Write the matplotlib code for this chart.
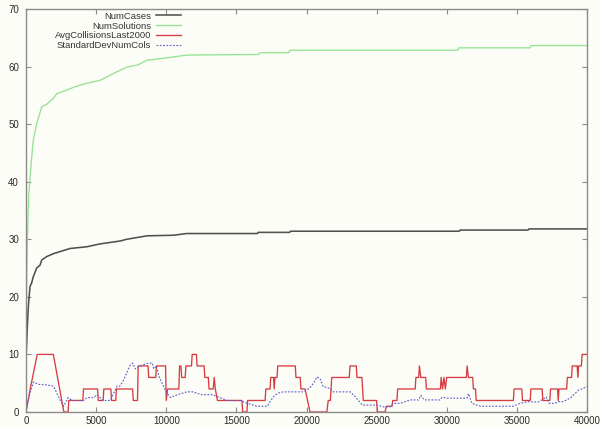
import matplotlib
matplotlib.use("Agg")
import matplotlib.pyplot as plt

# ---- series data (iteration, value) ----
cases_x = [0, 80, 165, 285, 400, 520, 760, 1000, 1120, 1480, 1950, 3140, 4330,
           5280, 6700, 7180, 8610, 10500, 11460, 16500, 16550, 18800, 18850,
           30900, 30950, 35800, 35850, 40000]
cases_y = [9, 14, 18.3, 21.8, 22.4, 23.5, 25.0, 25.5, 26.4, 27.0, 27.5, 28.4, 28.7,
           29.2, 29.7, 30.0, 30.6, 30.7, 31.0, 31.0, 31.2, 31.2, 31.4,
           31.4, 31.6, 31.6, 31.8, 31.8]

solutions_x = [0, 100, 200, 410, 520, 760, 1000, 1120, 1500, 1950, 2200, 2900,
               3500, 4330, 5280, 6230, 7180, 8000, 8610, 10000, 11460, 16600,
               16650, 18750, 18800, 30800, 30850, 35950, 36000, 40000]
solutions_y = [15, 30, 38, 44.3, 47.2, 50.1, 52, 53, 53.5, 54.5, 55.3, 55.9,
               56.5, 57.1, 57.6, 58.8, 59.9, 60.3, 61.1, 61.5, 62.0, 62.1,
               62.4, 62.4, 62.85, 62.85, 63.25, 63.25, 63.65, 63.65]

collisions_x = [0, 300, 800, 1950, 2100, 2250, 2400, 2550, 2700, 3000, 3050, 4050,
                4100, 5100, 5150, 5500, 5550, 6050, 6100, 6400, 6450, 7600, 7650,
                7950, 8000, 8700, 8750, 9250, 9300, 9950, 10000, 10100, 10900,
                10950, 11050, 11100, 11350, 11400, 11800, 11850, 12150, 12200,
                12700, 12750, 13000, 13050, 13350, 13420, 13500, 13650, 15400,
                15450, 15750, 15800, 17050, 17100, 17400, 17450, 17650, 17700,
                17750, 17900, 17950, 19200, 19250, 19550, 19600, 19900, 20250,
                21450, 21550, 21700, 21800, 23050, 23100, 23550, 23600, 23950,
                24050, 25000, 25050, 25600, 25700, 26100, 26150, 26450, 26500,
                27750, 27800, 28000, 28050, 28150, 28500, 28550, 29550, 29600,
                29700, 29800, 29900, 30000, 31400, 31450, 31550, 31850, 31900,
                32050, 32100, 34750, 34800, 35350, 35400, 35950, 36000, 36800,
                36850, 37350, 37400, 37900, 37950, 38000, 38550, 38600, 38900,
                38950, 39300, 39350, 39400, 39600, 39650, 40000]
collisions_y = [0, 4, 10, 10, 8, 6, 4, 2, 0, 0, 2, 2,
                4, 4, 2, 2, 4, 4, 2, 2, 4, 4, 2,
                2, 8, 8, 6, 6, 8, 8, 2, 4, 4,
                8, 8, 6, 6, 8, 8, 10, 10, 8,
                8, 6, 6, 4, 4, 6, 4, 2, 2,
                0, 0, 2, 2, 4, 4, 6, 6, 4,
                6, 6, 8, 8, 6, 6, 4, 4, 0,
                0, 2, 2, 6, 6, 8, 8, 6, 6,
                2, 2, 0, 0, 1, 1, 2, 2, 4,
                4, 6, 6, 8, 6, 6, 4, 4, 6,
                4, 6, 4, 6, 6, 8, 6, 6, 4,
                4, 2, 2, 4, 4, 2, 2, 4, 4,
                2, 2, 4, 4, 2, 4, 4, 6, 6,
                8, 8, 6, 8, 8, 10, 10]

stddev_x = [0, 250, 530, 900, 1500, 1950, 2450, 2680, 3000, 3300, 4090, 4350,
            4800, 5070, 5500, 6000, 6200, 6500, 6700, 6950, 7400, 7600, 7800,
            8100, 8700, 9000, 9100, 9300, 9500, 9800, 10000, 10300, 10800,
            11480, 11920, 12500, 13300, 13800, 14350, 15260, 15800, 16480,
            17200, 17450, 17700, 18000, 18350, 19780, 20200, 20470, 20750,
            20970, 21190, 21690, 21900, 23110, 23500, 23970, 25010, 25470,
            25970, 26180, 26680, 27400, 28000, 28150, 28400, 29500, 29700,
            30030, 31440, 31550, 31800, 32390, 34740, 35200, 35800, 36500,
            37100, 37300, 37700, 38000, 38300, 38800, 39400, 40000]
stddev_y = [0, 3, 5.2, 4.8, 4.7, 4.5, 2, 1, 2.5, 2, 2, 2.5,
            2.5, 3, 2, 2, 3, 4.5, 4.5, 5.5, 8, 8.5, 7.5,
            8, 8.5, 8.5, 7.5, 8, 6, 4.5, 3.5, 2.5, 3,
            3.5, 3.5, 3, 3, 2.5, 2, 2, 1.5, 1,
            1, 2, 2.8, 3.3, 3.5, 3.5, 4.1, 4.9, 6.1,
            5.8, 4.4, 4.1, 3.5, 3.5, 2.6, 1.2, 1.2, 0.9,
            0.9, 1.5, 1.5, 2.1, 2.1, 2.9, 2.1, 2.1, 2.6,
            2.4, 2.4, 3.2, 1.5, 1.0, 1.0, 1.5, 1.8, 1.7,
            2.6, 1.5, 1.5, 1.8, 1.8, 2.4, 3.8, 4.4]

series_labels = ["NumCases", "NumSolutions", "AvgCollisionsLast2000",
                 "StandardDevNumCols"]
x_ticks = [0, 5000, 10000, 15000, 20000, 25000, 30000, 35000, 40000]
y_ticks = [0, 10, 20, 30, 40, 50, 60, 70]

# ---- styling ----
bg = "#fdfdf8"
frame = "#8a8a8a"
plt.rcParams["font.family"] = ["Liberation Sans", "DejaVu Sans"]

fig = plt.figure(figsize=(6.0, 4.28), dpi=100, facecolor=bg)
ax = fig.add_axes([26 / 600, 1 - 412 / 428, 561 / 600, 403 / 428], facecolor=bg)

ax.plot(cases_x, cases_y, color="#505050", lw=1.15, label=series_labels[0])
ax.plot(solutions_x, solutions_y, color="#94e294", lw=0.95, label=series_labels[1])
ax.plot(collisions_x, collisions_y, color="#d63c42", lw=0.95, label=series_labels[2])
ax.plot(stddev_x, stddev_y, color="#6464cc", lw=0.85, ls=(0, (1.5, 1.3)),
        label=series_labels[3])

ax.set_xlim(0, 40000)
ax.set_ylim(0, 70)
ax.set_xticks(x_ticks)
ax.set_yticks(y_ticks)
ax.set_xticklabels([str(v) for v in x_ticks])
ax.set_yticklabels([str(v) for v in y_ticks])

for s in ax.spines.values():
    s.set_color(frame)
    s.set_linewidth(1.0)
ax.tick_params(direction="in", length=3.5, width=0.8, color=frame,
               top=True, right=True, labelsize=7, labelcolor="#2a2a2a")
ax.tick_params(axis="x", pad=3)
ax.tick_params(axis="y", pad=5)

# gnuplot-style key: labels right-aligned, sample lines to their right
leg = ax.legend(loc="upper left", bbox_to_anchor=(0.04, 1.01), frameon=False,
                fontsize=6.8, markerfirst=False, handlelength=2.6,
                handletextpad=0.5, labelspacing=0.1, borderpad=0.2)
for t in leg.get_texts():
    t.set_ha("right")
    t.set_color("#333333")
leg._legend_box.align = "right"

fig.savefig("out.png", dpi=100, facecolor=bg)
